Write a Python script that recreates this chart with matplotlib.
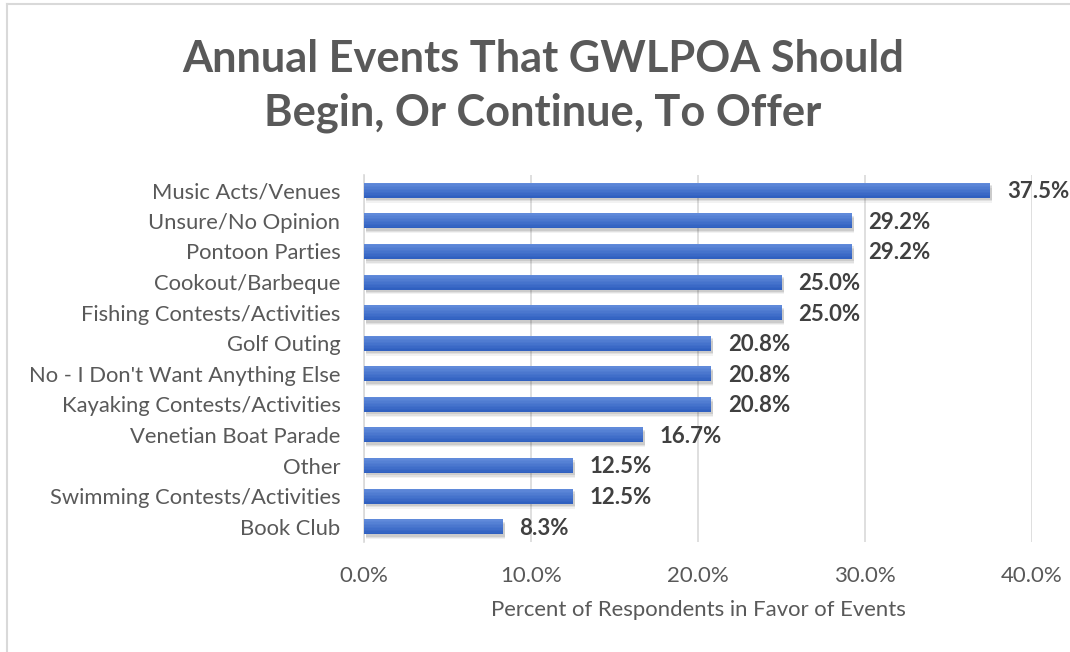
import matplotlib
matplotlib.use("Agg")
import matplotlib.pyplot as plt
from matplotlib.lines import Line2D
import numpy as np

categories = ["Music Acts/Venues", "Unsure/No Opinion", "Pontoon Parties",
              "Cookout/Barbeque", "Fishing Contests/Activities", "Golf Outing",
              "No - I Don't Want Anything Else", "Kayaking Contests/Activities",
              "Venetian Boat Parade", "Other", "Swimming Contests/Activities",
              "Book Club"]
values = [37.5, 29.2, 29.2, 25.0, 25.0, 20.8, 20.8, 20.8, 16.7, 12.5, 12.5, 8.3]
xticks = [0, 10, 20, 30, 40]
title = "Annual Events That GWLPOA Should\nBegin, Or Continue, To Offer"
xlabel = "Percent of Respondents in Favor of Events"

plt.rcParams['font.family'] = ['Lato', 'DejaVu Sans']

W, H = 1070, 652
fig = plt.figure(figsize=(W/100, H/100), dpi=100)
ax = fig.add_axes([364/W, 1-542/H, (1032-364)/W, (542-175)/H])

y = np.arange(len(categories))
h = 0.49
# soft shadow
for dy, a in [(0.16, 0.05), (0.12, 0.07), (0.08, 0.09)]:
    ax.barh(y + dy, values, height=h, left=0.12, color="#000000", alpha=a,
            zorder=2, linewidth=0)
# gradient body: lighter at the top, darker at the bottom
top = np.array([0x60, 0x8A, 0xDA]) / 255
bot = np.array([0x30, 0x60, 0xC0]) / 255
n = 10
for i in range(n):
    frac = i / (n - 1)
    col = bot + (top - bot) * frac
    hh = h * (1 - i / n)
    ax.barh(y - (h - hh) / 2, values, height=hh, color=col, zorder=3 + i,
            linewidth=0)

for yi, v in zip(y, values):
    ax.annotate(f"{v:.1f}%", xy=(v, yi), xytext=(12, -1), textcoords="offset points",
                va="center", ha="left", fontsize=16, fontweight="bold",
                color="#404040", zorder=20)

ax.set_ylim(len(categories) - 0.5, -0.5)
ax.set_xlim(0, 40)
ax.set_xticks(xticks)
ax.set_xticklabels([f"{t:.1f}%" for t in xticks], fontsize=16, color="#595959")
ax.set_yticks(y)
ax.set_yticklabels(categories, fontsize=15.8, color="#595959")
ax.tick_params(axis="both", length=0)
ax.tick_params(axis="y", pad=17)
ax.tick_params(axis="x", pad=17)
ax.grid(axis="x", color="#D9D9D9", linewidth=1.2, zorder=0)
ax.set_axisbelow(True)
for s in ["top", "right", "bottom"]:
    ax.spines[s].set_visible(False)
ax.spines["left"].set_color("#D9D9D9")
ax.spines["left"].set_linewidth(1.2)
ax.set_xlabel(xlabel, fontsize=15.9, color="#595959", labelpad=10)

fig.text(543/W, 1-86/H, title, ha="center", va="center", fontsize=31.2,
         fontweight="bold", color="#595959", linespacing=1.42)

fig.add_artist(Line2D([7/W, 7/W], [0, 1-4/H], transform=fig.transFigure,
                      color="#D9D9D9", linewidth=1.5))
fig.add_artist(Line2D([7/W, 1], [1-4/H, 1-4/H], transform=fig.transFigure,
                      color="#D9D9D9", linewidth=1.5))

fig.savefig("out.png", dpi=100)
